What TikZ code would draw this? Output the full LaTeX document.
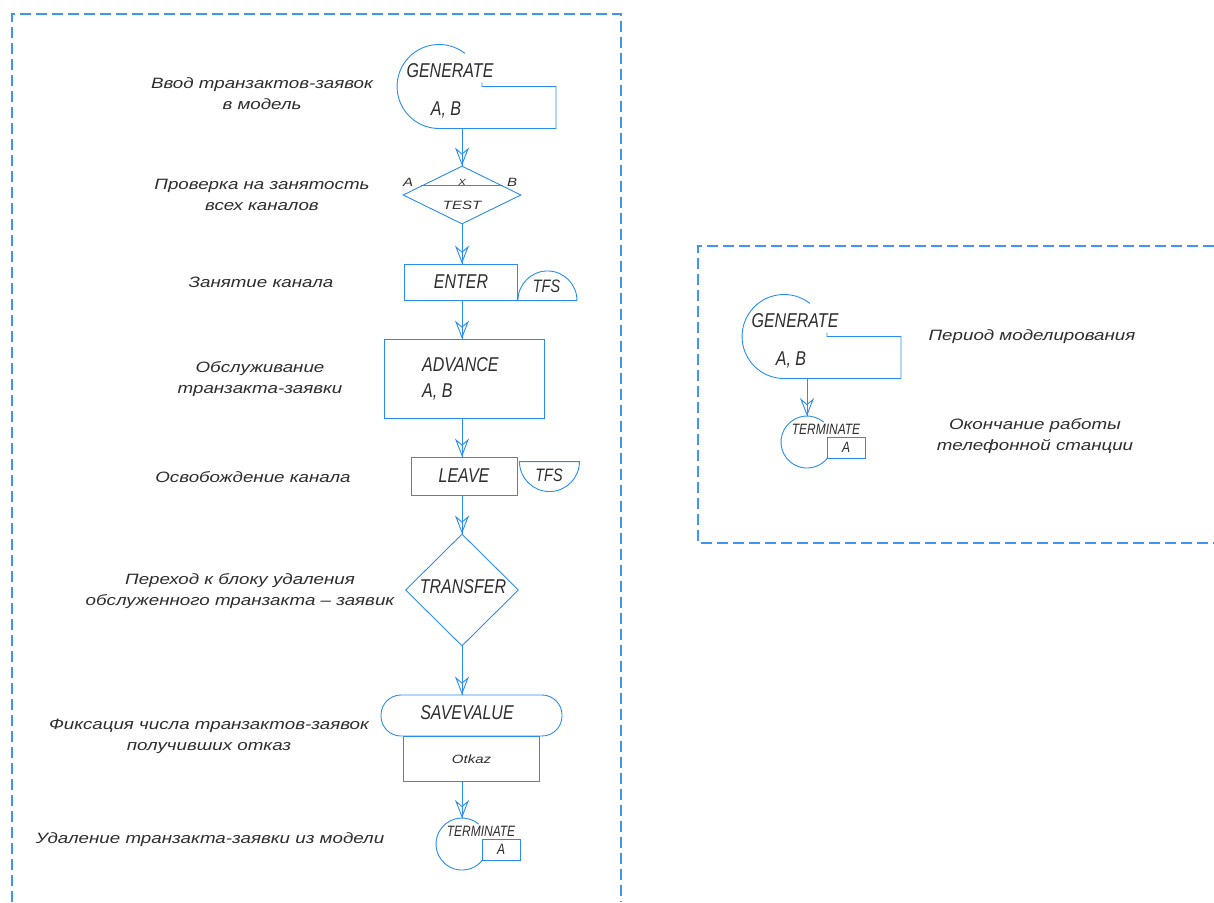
\documentclass[tikz,border=0pt]{standalone}
\usepackage{fontspec}
\setmainfont{Liberation Sans}
\newfontfamily\gostblk{Liberation Sans}[FakeStretch=0.8]
\newfontfamily\gostlbl{Liberation Sans}[FakeStretch=1.25]
\usetikzlibrary{calc,positioning,shapes.geometric,arrows.meta}
\definecolor{gpssblue}{RGB}{40,140,240}
\definecolor{gpsstext}{RGB}{45,45,45}

\tikzset{
  line/.style={draw=gpssblue,line width=0.9pt},
  flow/.style={line,postaction={draw=gpssblue,line width=0.9pt,-{Stealth[open,length=18pt,width=14pt,inset=6pt]}}},
  frame/.style={draw=gpssblue!90,line width=1.2pt,dash pattern=on 11pt off 5pt},
  box/.style={line,inner sep=0pt},
  cmd/.style={font=\gostblk\itshape\fontsize{20}{22}\selectfont,text=gpsstext,inner sep=0pt},
  tfs/.style={font=\gostblk\itshape\fontsize{18}{20}\selectfont,text=gpsstext,inner sep=0pt},
  term/.style={font=\gostblk\itshape\fontsize{15}{16}\selectfont,text=gpsstext,inner sep=0pt},
  small/.style={font=\gostlbl\itshape\fontsize{12}{14}\selectfont,text=gpsstext,inner sep=0pt},
  note/.style={font=\gostlbl\itshape\fontsize{15}{21}\selectfont,text=gpsstext,align=center,inner sep=0pt},
}

% GENERATE block: #1 name of the exit, #2 centre of the arc
\newcommand{\genblock}[2]{%
  \begin{scope}[shift={(#2)}]
    \draw[line] (25.9,-33.1) arc[start angle=52,end angle=270,radius=42pt]
      -- (117,42) -- (117,0) -- (43,0) -- (43,-4);
    \node[cmd] (#1-op) at (11,-16) {GENERATE};
    \node[cmd] (#1-ab) at (7,23.5) {A, B};
    \coordinate (#1) at (23,42);
  \end{scope}}

% TERMINATE block: #1 name of the entry, #2 centre of the circle
\newcommand{\termblock}[2]{%
  \begin{scope}[shift={(#2)}]
    \draw[line] (16.7,-19.9) arc[start angle=50,end angle=322,radius=26pt];
    \draw[line] (20,-5) rectangle (58,16);
    \node[term] (#1-op) at (19,-13) {TERMINATE};
    \node[term] (#1-a) at (39,5.5) {A};
    \coordinate (#1) at (0,-26);
  \end{scope}}

\begin{document}
\begin{tikzpicture}[x=1pt,y=-1pt]
  \useasboundingbox (0,0) rectangle (1214,902);
  % frames
  \draw[frame] (12,902) -- (12,14) -- (621,14) -- (621,902);
  \draw[frame] (1214,246) -- (698,246) -- (698,543) -- (1214,543);

  % main model
  \genblock{gen}{439,86.5}
  \node[diamond,box,minimum width=118pt,minimum height=58pt] (test) at (462,195) {};
  \draw[line] ($(test.west)!0.31!(test.north)$) -- ($(test.east)!0.31!(test.north)$);
  \node[small] (test-a) at (408,182) {A};
  \node[small,font=\gostlbl\itshape\fontsize{9}{10}\selectfont] (test-x) at (462,182) {X};
  \node[small] (test-b) at (512,182) {B};
  \node[small] (test-op) at (462,205) {TEST};

  \node[box,cmd,minimum width=113pt,minimum height=36pt] (enter) at (461,282) {ENTER};
  \draw[line] (enter.south east) arc[start angle=180,end angle=0,radius=29.5pt] -- cycle;
  \node[tfs] (tfs1) at (546.5,286) {TFS};

  \node[box,minimum width=160pt,minimum height=79pt] (adv) at (464,378.5) {};
  \node[cmd,anchor=west] (adv-op) at (422,365) {ADVANCE};
  \node[cmd,anchor=west] (adv-ab) at (422,392) {A, B};

  \node[box,cmd,minimum width=106pt,minimum height=38pt] (leave) at (464,476) {LEAVE};
  \draw[line] ($(leave.north east)+(2,5)$) arc[start angle=180,end angle=360,radius=30pt] -- cycle;
  \node[tfs] (tfs2) at (549,475) {TFS};

  \node[diamond,box,minimum width=113pt,minimum height=112pt] (transfer) at (462,590) {};
  \node[cmd] (transfer-op) at (463,587) {TRANSFER};

  \node[box,rounded corners=20pt,minimum width=181pt,minimum height=41pt] (save) at (471.5,715.5) {};
  \node[cmd] (save-op) at (467,713) {SAVEVALUE};
  \node[box,small,anchor=north,minimum width=136pt,minimum height=45pt] (okaz) at (save.south) {Otkaz};

  \termblock{term}{462,844}

  \draw[flow] (gen) -- (test.north);
  \draw[flow] (test.south) -- (test.south |- enter.north);
  \draw[flow] (enter.south -| test) -- (test |- adv.north);
  \draw[flow] (adv.south -| test) -- (test |- leave.north);
  \draw[flow] (leave.south -| test) -- (transfer.north);
  \draw[flow] (transfer.south) -- (transfer.south |- save.north);
  \draw[flow] (okaz.south -| term) -- (term);

  \node[note] (l-gen) at (262,94) {Ввод транзактов-заявок\\в модель};
  \node[note] (l-test) at (262,195) {Проверка на занятость\\всех каналов};
  \node[note] (l-enter) at (261,282) {Занятие канала};
  \node[note] (l-adv) at (260,379) {Обслуживание\\транзакта-заявки};
  \node[note] (l-leave) at (253,477) {Освобождение канала};
  \node[note] (l-transfer) at (240,591) {Переход к блоку удаления\\обслуженного транзакта – заявик};
  \node[note] (l-save) at (209,736) {Фиксация числа транзактов-заявок\\получивших отказ};
  \node[note] (l-term) at (210,840) {Удаление транзакта-заявки из модели};

  % run time
  \genblock{gen2}{784,336.5}
  \termblock{term2}{807,442}
  \draw[flow] (gen2) -- (term2);
  \node[note] (l-gen2) at (1032,337) {Период моделирования};
  \node[note] (l-term2) at (1035,436) {Окончание работы\\телефонной станции};
\end{tikzpicture}
\end{document}
